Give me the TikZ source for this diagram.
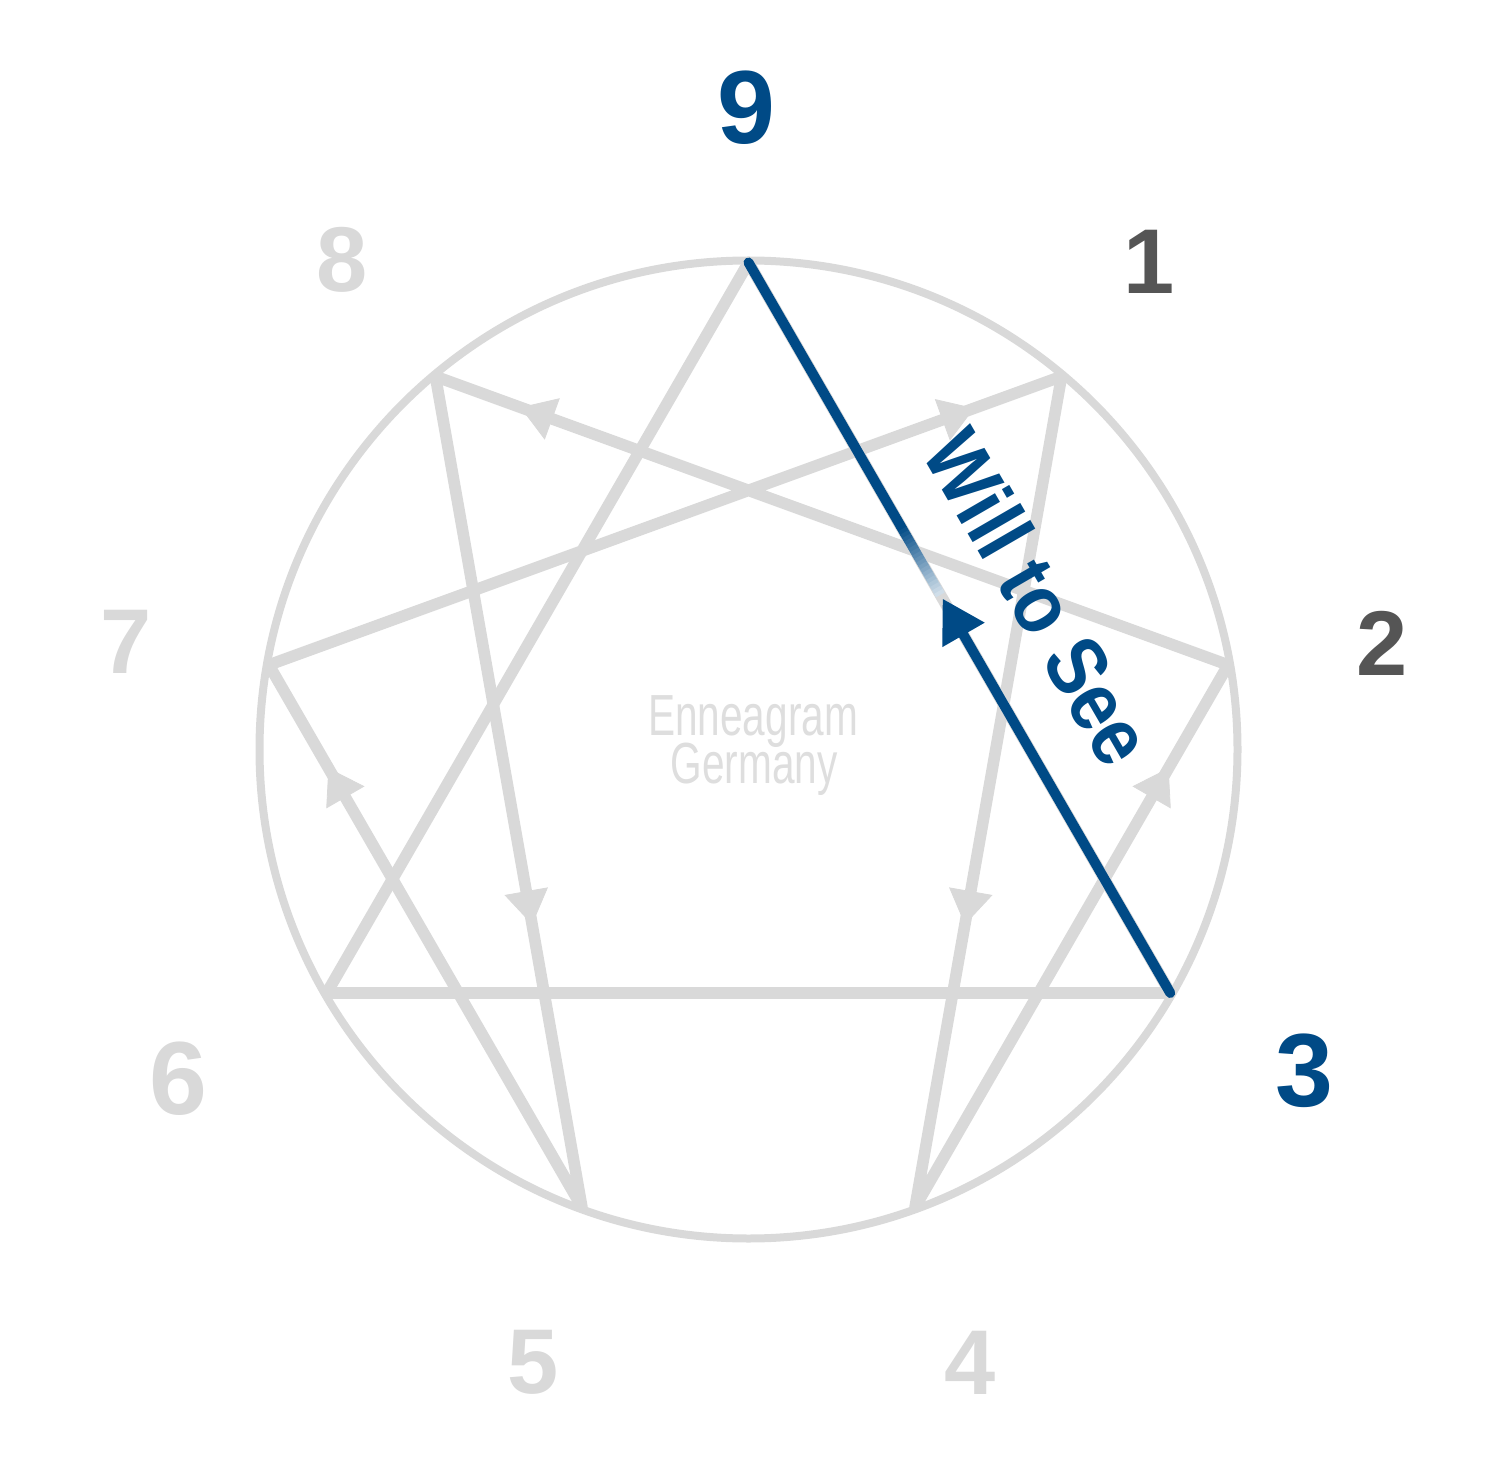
\documentclass[tikz,border=0pt]{standalone}
\usepackage{fontspec}
\setmainfont{Liberation Sans}
\usetikzlibrary{arrows.meta,decorations.markings,calc}
\definecolor{enblue}{RGB}{0,74,134}
\definecolor{lgrey}{RGB}{217,217,217}
\definecolor{dgrey}{RGB}{85,85,85}
\definecolor{wgrey}{RGB}{222,222,222}
\begin{document}
\begin{tikzpicture}[x=0.5pt,y=-0.5pt,
  ring/.style={draw=lgrey, line width=4pt},
  chord/.style={draw=lgrey, line width=5.8pt, line join=round},
  blueline/.style={draw=enblue, line width=5pt},
  numsmall/.style={font=\bfseries\fontsize{46pt}{50pt}\selectfont, inner sep=0pt},
  numbig/.style={font=\bfseries\fontsize{52pt}{56pt}\selectfont, inner sep=0pt},
  willtext/.style={font=\bfseries\fontsize{42pt}{46pt}\selectfont, text=enblue, inner sep=0pt},
  logotext/.style={font=\fontsize{29pt}{34pt}\selectfont, text=wgrey, inner sep=0pt, anchor=base},
  hexarrow/.style={decoration={markings, mark=at position #1 with {\arrow{Triangle[length=17pt,width=22pt,color=lgrey]}}}, decorate}
]
\useasboundingbox (0,0) rectangle (1500,1476);
\foreach \k in {1,...,9}
  \coordinate (p\k) at ({748.5+487*sin(40*\k)},{749.5-487*cos(40*\k)});
\coordinate (c) at (748.5,749.5);
% circle
\draw[ring] (c) circle[radius=244.5pt];
% triangle and hexad
\draw[chord] (p9) -- (p3) -- (p6) -- cycle;
\draw[chord] (p1) -- (p4) -- (p2) -- (p8) -- (p5) -- (p7) -- cycle;
% arrows on hexad
\path[hexarrow=0.66] (p1) -- (p4);
\path[hexarrow=0.66] (p8) -- (p5);
\path[hexarrow=0.89] (p7) -- (p1);
\path[hexarrow=0.893] (p2) -- (p8);
\path[hexarrow=0.81] (p5) -- (p7);
\path[hexarrow=0.81] (p4) -- (p2);
% blue line 9 -- 3
\coordinate (f0) at ($(p9)!0.36!(p3)$);
\coordinate (f1) at ($(p9)!0.455!(p3)$);
\coordinate (bt) at ($(p9)!0.46!(p3)$);
\draw[blueline, line cap=round] (p9) -- (f0);
\foreach \i in {0,...,19} {
  \pgfmathsetmacro\tt{100-\i*4.3}
  \pgfmathsetmacro\sa{\i/20}
  \pgfmathsetmacro\sb{min((\i+1.2)/20,1)}
  \draw[line width=5pt, draw=enblue!\tt!white] ($(f0)!\sa!(f1)$) -- ($(f0)!\sb!(f1)$);
}
\draw[blueline, line cap=round, -{Triangle[length=21pt,width=23pt]}] (p3) -- (bt);
\node[willtext, rotate=-59.9] (will) at (1039,597) {\scalebox{0.87}[1]{Will to See}};
% numbers
\node[numbig, text=enblue] (n9) at (746,108) {9};
\node[numsmall, text=dgrey] (n1) at (1149,262) {1};
\node[numsmall, text=dgrey] (n2) at (1382,643) {2};
\node[numbig, text=enblue] (n3) at (1304,1071) {3};
\node[numsmall, text=lgrey] (n4) at (970,1363) {4};
\node[numsmall, text=lgrey] (n5) at (533,1362) {5};
\node[numbig, text=lgrey] (n6) at (178,1079) {6};
\node[numsmall, text=lgrey] (n7) at (126,642) {7};
\node[numsmall, text=lgrey] (n8) at (342,260) {8};
% logo
\node[logotext] (logo1) at (753,735) {\scalebox{0.7}[1]{Enneagram}};
\node[logotext] (logo2) at (754,783) {\scalebox{0.7}[1]{Germany}};
\end{tikzpicture}
\end{document}
